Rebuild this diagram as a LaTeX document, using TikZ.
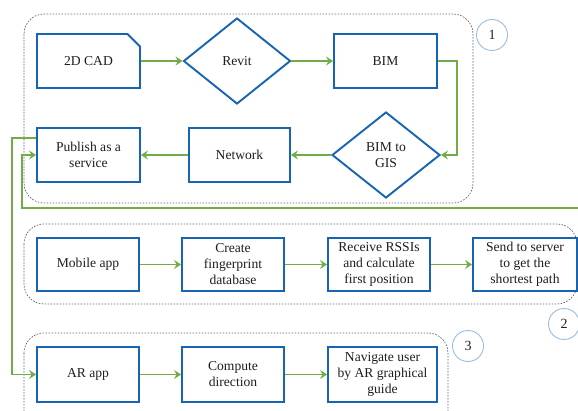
\documentclass[tikz,border=0pt]{standalone}
\usepackage{fontspec}
\setmainfont{Liberation Serif}
\usetikzlibrary{arrows.meta,shapes.geometric,shapes.misc,calc}
\definecolor{boxblue}{RGB}{22,100,178}
\definecolor{flowgreen}{RGB}{112,173,71}
\definecolor{ringblue}{RGB}{150,190,228}
\definecolor{groupgray}{RGB}{95,100,115}
\definecolor{txt}{RGB}{30,30,30}
\tikzset{
  stepbox/.style={draw=boxblue, line width=1.9pt, fill=white, minimum width=103pt,
    minimum height=54pt, align=center, inner sep=1pt, text=txt,
    font=\fontsize{13.6}{16}\selectfont},
  decision/.style={diamond, draw=boxblue, line width=1.9pt, fill=white, minimum width=107pt,
    minimum height=86pt, inner sep=0pt, align=center, text=txt,
    font=\fontsize{13.6}{16}\selectfont},
  docbox/.style={stepbox, chamfered rectangle, chamfered rectangle corners=north east,
    chamfered rectangle xsep=7pt, chamfered rectangle ysep=7pt},
  flow/.style={draw=flowgreen, line width=1.9pt, -{Stealth[length=7pt,width=9pt,inset=2.5pt]}},
  group/.style={draw=groupgray, line width=0.7pt, dash pattern=on 1.6pt off 1.4pt, rounded corners=20pt},
  stage/.style={circle, draw=ringblue, line width=0.9pt, minimum size=31pt, inner sep=0pt,
    text=txt, font=\fontsize{14}{16}\selectfont},
}
\begin{document}
\begin{tikzpicture}[x=1pt,y=-1pt]
\useasboundingbox (0,0) rectangle (578,411);
\clip (0,0) rectangle (578,411);

% dotted group frames
\draw[group] (24,14) rectangle (473,203);
\draw[group] (24,224) rectangle (577,304);
\draw[group] (24,333) rectangle (448,440);

% stage numbers
\node[stage] (s1) at (492,35) {1};
\node[stage] (s2) at (564,324) {2};
\node[stage] (s3) at (468,346) {3};

% stage 1: model preparation
\node[docbox] (cad) at (88.5,61) {2D CAD};
\node[decision] (revit) at (237,61) {Revit};
\node[stepbox] (bim) at (385.5,61) {BIM};
\node[decision, minimum width=108pt] (b2g) at (386,155) {BIM to\\GIS};
\node[stepbox, minimum width=101pt] (net) at (239.5,155) {Network};
\node[stepbox] (pub) at (88.5,155) {Publish as a\\service};

% stage 2: positioning
\node[stepbox, minimum width=102pt, minimum height=53pt] (mob) at (88,264.5) {Mobile app};
\node[stepbox, minimum width=102pt, minimum height=53pt] (fp) at (233,264.5) {Create\\fingerprint\\database};
\node[stepbox, minimum width=102pt, minimum height=53pt] (rssi) at (379,264.5) {Receive RSSIs\\and calculate\\first position};
\node[stepbox, minimum width=104pt, minimum height=53pt] (send) at (525,264.5) {Send to server\\to get the\\shortest path};

% stage 3: navigation
\node[stepbox, minimum width=102pt, minimum height=55pt] (ar) at (88,374.5) {AR app};
\node[stepbox, minimum width=102pt, minimum height=55pt] (comp) at (233,374.5) {Compute\\direction};
\node[stepbox, minimum width=109pt, minimum height=55pt] (nav) at (382.5,374.5) {Navigate user\\by AR graphical\\guide};

% connectors
\draw[flow] (cad) -- (revit);
\draw[flow] (revit) -- (bim);
\draw[flow] (bim.east) -- ++(19,0) |- (b2g.east);
\draw[flow] (b2g) -- (net);
\draw[flow] (net) -- (pub);
\draw[flow] ([yshift=17pt]pub.west) -- ++(-24,0) |- (ar.west);
\coordinate (ret) at (22,208);
\draw[flow] (send.east) -- ++(14,0) |- (ret) |- (pub.west);
\draw[flow] (mob) -- (fp);
\draw[flow] (fp) -- (rssi);
\draw[flow] (rssi) -- (send);
\draw[flow] (ar) -- (comp);
\draw[flow] (comp) -- (nav);
\end{tikzpicture}
\end{document}
